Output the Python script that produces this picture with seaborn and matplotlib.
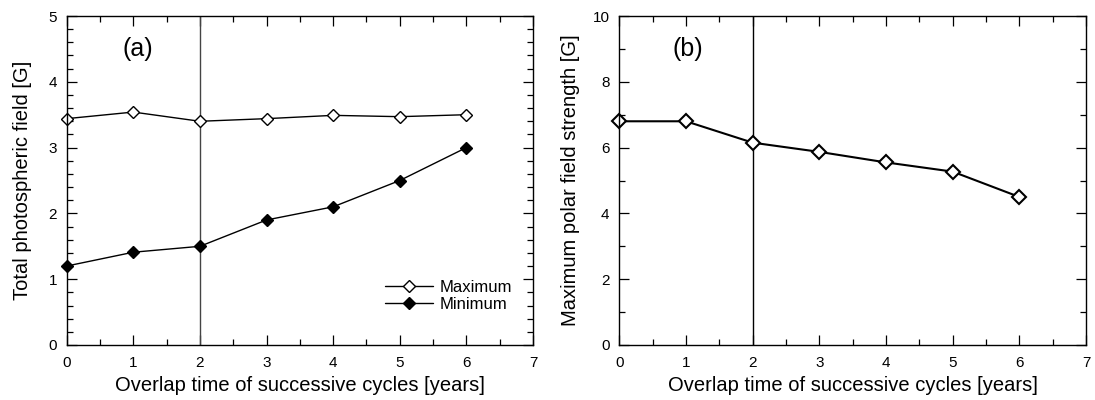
import matplotlib
matplotlib.use("Agg")
import matplotlib.pyplot as plt
import seaborn as sns
import pandas as pd
from matplotlib.ticker import MultipleLocator

overlap = [0, 1, 2, 3, 4, 5, 6]
total_max = [3.44, 3.54, 3.40, 3.44, 3.49, 3.47, 3.50]
total_min = [1.20, 1.41, 1.50, 1.90, 2.10, 2.50, 3.00]
polar_max = [6.80, 6.80, 6.15, 5.87, 5.55, 5.27, 4.50]

sns.set_theme(style="ticks")
plt.rcParams['font.family'] = ['Liberation Sans', 'DejaVu Sans']
plt.rcParams.update({"text.color": "black", "axes.labelcolor": "black",
                     "xtick.color": "black", "ytick.color": "black",
                     "xtick.labelcolor": "black", "ytick.labelcolor": "black"})

fig = plt.figure(figsize=(10.95, 4.0), dpi=100)
W, H = 1095, 400
ax1 = fig.add_axes([66.7 / W, 1 - 345 / H, (533 - 66.7) / W, (345 - 16) / H])
ax2 = fig.add_axes([619.3 / W, 1 - 345 / H, (1086 - 619.3) / W, (345 - 16) / H])

df_a = pd.DataFrame({"x": overlap * 2,
                     "y": total_max + total_min,
                     "s": ["Maximum"] * 7 + ["Minimum"] * 7})
sns.lineplot(data=df_a[df_a.s == "Maximum"], x="x", y="y", ax=ax1, color="black",
             lw=1.0, marker="D", markersize=6, markerfacecolor="white",
             markeredgecolor="black", markeredgewidth=1.0, label="Maximum", clip_on=False)
sns.lineplot(data=df_a[df_a.s == "Minimum"], x="x", y="y", ax=ax1, color="black",
             lw=1.0, marker="D", markersize=6, markerfacecolor="black",
             markeredgecolor="black", markeredgewidth=1.0, label="Minimum", clip_on=False)

df_b = pd.DataFrame({"x": overlap, "y": polar_max})
sns.lineplot(data=df_b, x="x", y="y", ax=ax2, color="black", lw=1.5, marker="D",
             markersize=7, markerfacecolor="white", markeredgecolor="black",
             markeredgewidth=1.5, clip_on=False)

ax1.axvline(2, color="#444444", lw=1.0, zorder=1)
ax2.axvline(2, color="black", lw=1.0, zorder=1)

ax1.set_xlim(0, 7); ax1.set_ylim(0, 5)
ax2.set_xlim(0, 7); ax2.set_ylim(0, 10)
ax1.xaxis.set_major_locator(MultipleLocator(1)); ax1.xaxis.set_minor_locator(MultipleLocator(0.5))
ax1.yaxis.set_major_locator(MultipleLocator(1)); ax1.yaxis.set_minor_locator(MultipleLocator(0.2))
ax2.xaxis.set_major_locator(MultipleLocator(1)); ax2.xaxis.set_minor_locator(MultipleLocator(0.5))
ax2.yaxis.set_major_locator(MultipleLocator(2)); ax2.yaxis.set_minor_locator(MultipleLocator(1))

for ax in (ax1, ax2):
    for sp in ax.spines.values():
        sp.set_visible(True)
        sp.set_linewidth(1.0)
        sp.set_color("black")
    ax.tick_params(which="both", direction="in", top=True, right=True, colors="black",
                   labelsize=11, width=0.9)
    ax.tick_params(which="major", length=7)
    ax.tick_params(which="minor", length=4)
    ax.tick_params(axis="x", which="major", pad=8)
    ax.tick_params(axis="y", which="major", pad=7)
    ax.set_xlabel("Overlap time of successive cycles [years]", fontsize=14.5, labelpad=4)

ax1.set_ylabel("Total photospheric field [G]", fontsize=14.5, labelpad=12)
ax2.set_ylabel("Maximum polar field strength [G]", fontsize=14.5, labelpad=9)

ax1.text(0.119, 0.90, "(a)", transform=ax1.transAxes, fontsize=18, ha="left", va="center")
ax2.text(0.115, 0.90, "(b)", transform=ax2.transAxes, fontsize=18, ha="left", va="center")

leg = ax1.legend(loc="lower right", bbox_to_anchor=(0.97, 0.08), frameon=False,
                 fontsize=12, handlelength=2.9, handletextpad=0.4, labelspacing=0.15,
                 borderaxespad=0)

fig.savefig("out.png", dpi=100)
